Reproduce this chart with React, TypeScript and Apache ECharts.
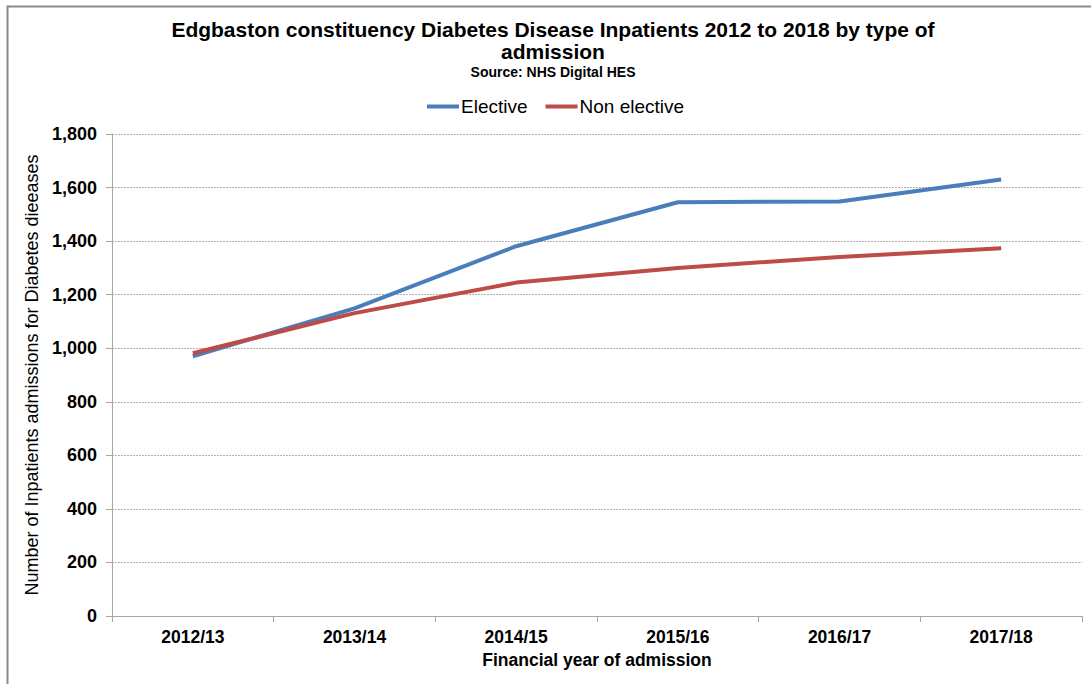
import React, { useEffect, useRef } from "react";
import * as echarts from "echarts";

const categories = ["2012/13", "2013/14", "2014/15", "2015/16", "2016/17", "2017/18"];
const elective = [970, 1149, 1381, 1545, 1548, 1630];
const nonElective = [981, 1131, 1245, 1300, 1341, 1373];

export default function App() {
  const ref = useRef<HTMLDivElement>(null);
  useEffect(() => {
    if (!ref.current) return;
    const chart = echarts.init(ref.current, null, { renderer: "svg" });
    const font = "Liberation Sans, Arial, sans-serif";
    chart.setOption({
      animation: false,
      backgroundColor: "#fff",
      textStyle: { fontFamily: font },
      graphic: [
        {
          type: "polyline",
          shape: { points: [[7.5, 700], [7.5, 6.5], [1100, 6.5]] },
          style: { stroke: "#8a8a8a", lineWidth: 2, fill: "none" },
        },
        {
          type: "text",
          x: 553,
          y: 29,
          style: {
            text: "Edgbaston constituency Diabetes Disease Inpatients 2012 to 2018 by type of",
            font: `bold 21px ${font}`,
            fill: "#000",
            align: "center",
            verticalAlign: "middle",
          },
        },
        {
          type: "text",
          x: 553,
          y: 51,
          style: {
            text: "admission",
            font: `bold 21px ${font}`,
            fill: "#000",
            align: "center",
            verticalAlign: "middle",
          },
        },
        {
          type: "text",
          x: 553,
          y: 72,
          style: {
            text: "Source: NHS Digital HES",
            font: `bold 14px ${font}`,
            fill: "#000",
            align: "center",
            verticalAlign: "middle",
          },
        },
      ],
      legend: {
        top: 92,
        left: 422,
        icon: "rect",
        itemWidth: 32,
        itemHeight: 4,
        itemGap: 18,
        textStyle: { fontFamily: font, fontSize: 19, color: "#000", padding: [0, 0, 0, -3] },
        data: ["Elective", "Non elective"],
      },
      grid: { left: 112, right: 9, top: 134, bottom: 68, containLabel: false },
      xAxis: {
        type: "category",
        data: categories,
        boundaryGap: true,
        name: "Financial year of admission",
        nameLocation: "middle",
        nameGap: 35,
        nameTextStyle: { fontFamily: font, fontSize: 17.5, fontWeight: "bold", color: "#000" },
        axisLine: { lineStyle: { color: "#a6a6a6", width: 1 } },
        axisTick: { show: true, length: 6, lineStyle: { color: "#a6a6a6" } },
        axisLabel: { fontFamily: font, fontSize: 17.5, fontWeight: "bold", color: "#000", margin: 12 },
      },
      yAxis: {
        type: "value",
        min: 0,
        max: 1800,
        interval: 200,
        name: "Number of Inpatients admissions for Diabetes dieeases",
        nameLocation: "middle",
        nameGap: 66,
        nameTextStyle: { fontFamily: font, fontSize: 18, color: "#000" },
        axisLine: { show: true, lineStyle: { color: "#a6a6a6", width: 1 } },
        axisTick: { show: true, length: 6, lineStyle: { color: "#a6a6a6" } },
        axisLabel: {
          fontFamily: font,
          fontSize: 18,
          fontWeight: "bold",
          color: "#000",
          margin: 15,
          formatter: (v: number) => v.toLocaleString("en-US"),
        },
        splitLine: { show: true, lineStyle: { color: "#b0b0b0", type: [2, 1], width: 1 } },
      },
      series: [
        {
          name: "Elective",
          type: "line",
          data: elective,
          symbol: "none",
          lineStyle: { width: 4, color: "#4A7EBB" },
          itemStyle: { color: "#4A7EBB" },
        },
        {
          name: "Non elective",
          type: "line",
          data: nonElective,
          symbol: "none",
          lineStyle: { width: 4, color: "#BE4B48" },
          itemStyle: { color: "#BE4B48" },
        },
      ],
    });
    return () => chart.dispose();
  }, []);
  return (
    <div
      ref={ref}
      style={{ position: "fixed", left: 0, top: 0, width: 1091, height: 684 }}
    />
  );
}
